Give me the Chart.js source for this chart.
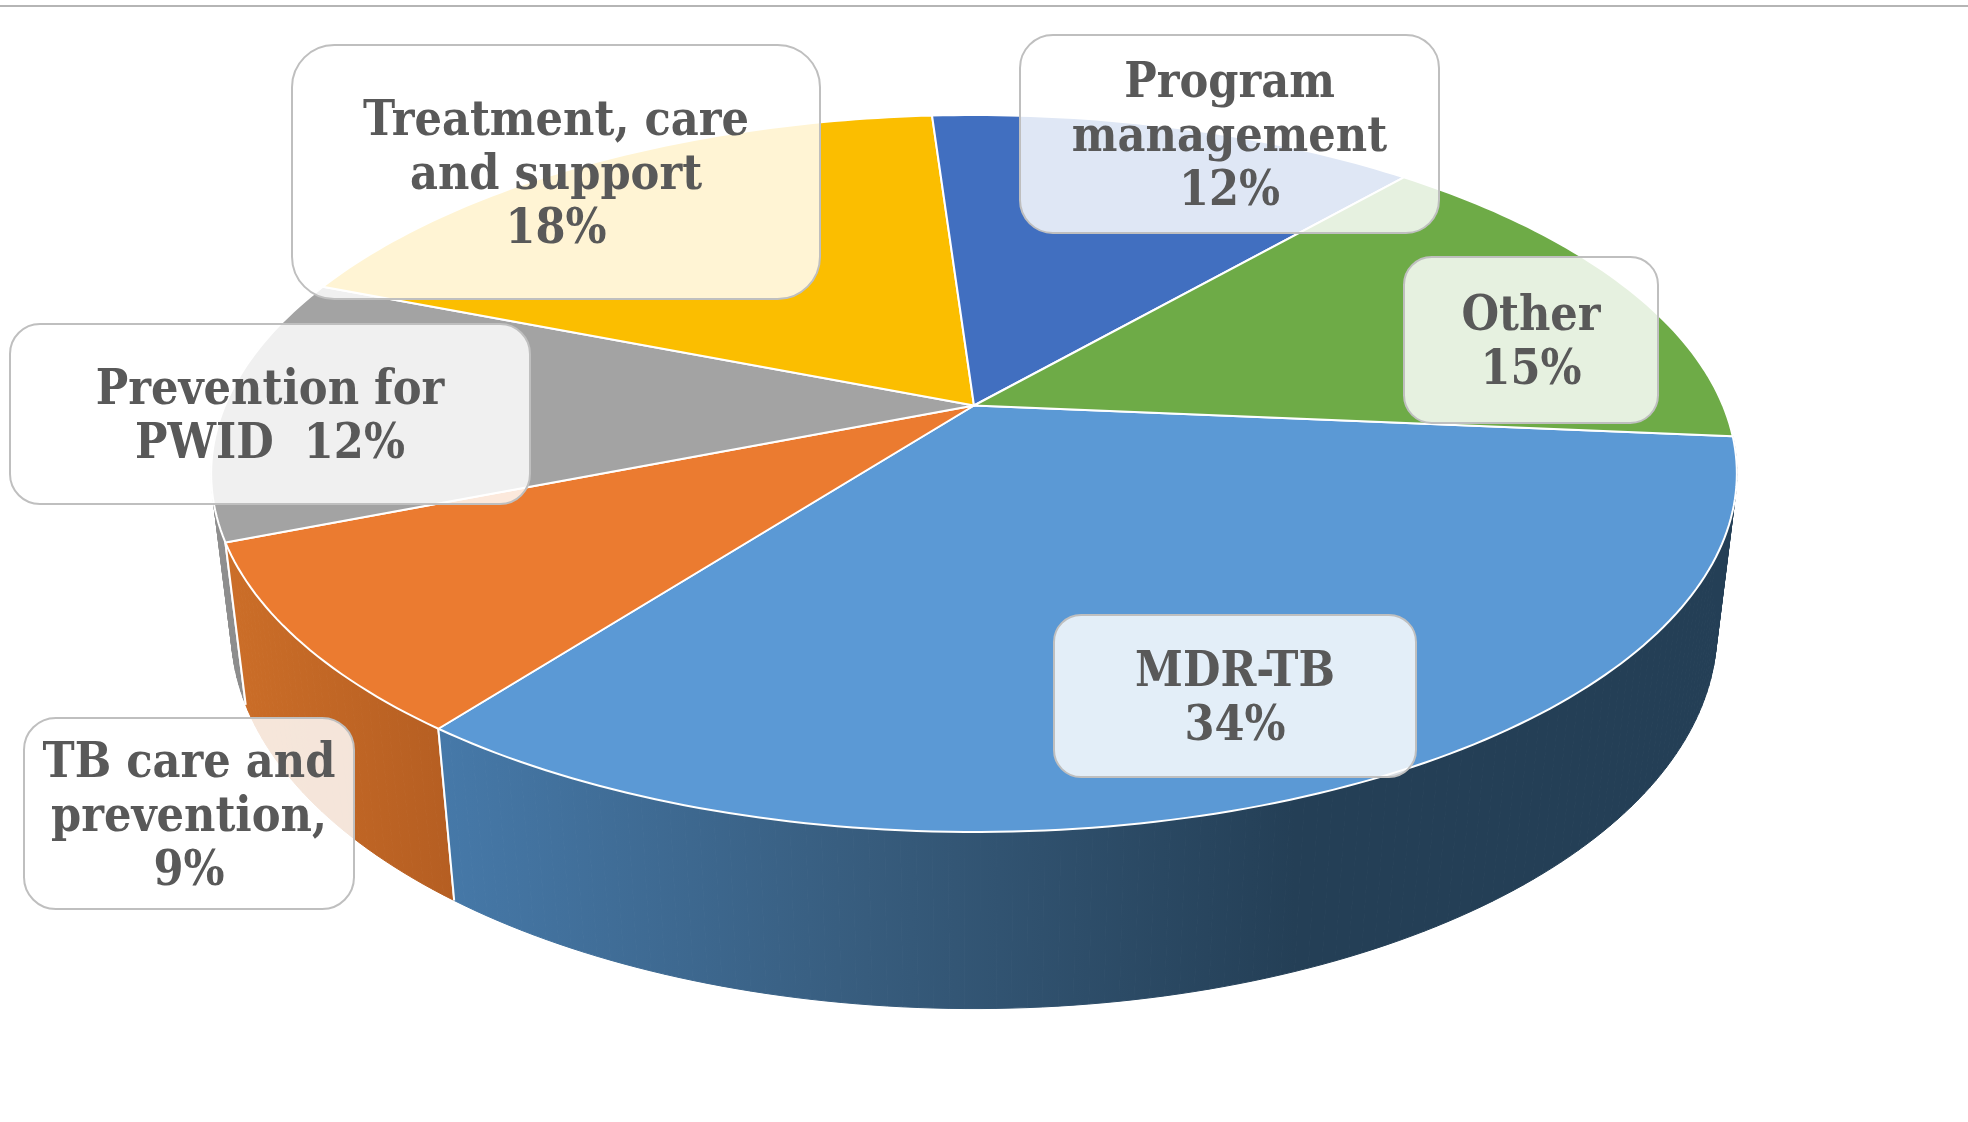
<!DOCTYPE html>
<html>
<head>
<meta charset="utf-8">
<style>
  html, body { margin: 0; padding: 0; background: #fff; }
  canvas { display: block; }
  #rule { position: absolute; left: 0; top: 5px; width: 1968px; height: 2px; background: #b5b5b5; }
</style>
</head>
<body>
<div id="rule"></div>
<canvas id="js-chart" width="1968" height="1122"></canvas>
<script src="https://cdn.jsdelivr.net/npm/chart.js@4"></script>
<script>
// データ
const categories = ["MDR-TB", "TB care and prevention", "Prevention for PWID", "Treatment, care and support", "Program management", "Other"];
const shareValues = [34.0, 8.6, 12.0, 17.95, 12.45, 15.0];
const labelLines = [
  ["MDR-TB", "34%"],
  ["TB care and", "prevention,", "9%"],
  ["Prevention for", "PWID  12%"],
  ["Treatment, care", "and support", "18%"],
  ["Program", "management", "12%"],
  ["Other", "15%"],
];

// 色
const topColors = ["#5B99D5", "#EB7B30", "#A3A3A3", "#FBBE00", "#416FC0", "#6EAB47"];
const wallStops = [
  [[0, "#4679a9"], [0.33, "#375c7d"], [0.66, "#243f56"], [1, "#243f56"]],
  [[0, "#cc6e28"], [1, "#b55e22"]],
  [[0, "#909090"], [1, "#808080"]],
];

// ラベル枠の位置 [x, y, w, h]
const labelBoxes = [
  [1054, 615, 362, 162],
  [24, 718, 330, 191],
  [10, 324, 520, 180],
  [292, 45, 528, 254],
  [1020, 35, 419, 198],
  [1404, 257, 254, 166],
];

// 透視投影のパラメータ
const view = { cx: 974, cy: 405.5, a: 749, b: 345.6, k: 0.1897, depth: 158.7, shrink: 0.0259 };

const projectTop = (ang) => {
  const u = Math.cos(ang), v = Math.sin(ang), w = 1 - view.k * v;
  return [view.cx + view.a * u / w, view.cy + view.b * v / w];
};
const projectBottom = (ang) => {
  const u = Math.cos(ang), v = Math.sin(ang), w = 1 - view.k * v + view.shrink;
  return [view.cx + view.a * u / w, view.cy + (view.b * v + view.depth) / w];
};
const sampleAngles = (start, end) => {
  const steps = Math.max(2, Math.ceil((end - start) / (Math.PI / 180)));
  const out = [];
  for (let i = 0; i <= steps; i++) out.push(start + (end - start) * i / steps);
  return out;
};

const drawWall = (ctx, arc, i) => {
  const stops = wallStops[i];
  if (!stops) return;
  const angles = sampleAngles(arc.startAngle, arc.endAngle);
  const top = angles.map(projectTop);
  const bottom = angles.map(projectBottom);
  const xs = top.concat(bottom).map((p) => p[0]);
  const grad = ctx.createLinearGradient(Math.min(...xs), 0, Math.max(...xs), 0);
  stops.forEach((s) => grad.addColorStop(s[0], s[1]));
  ctx.fillStyle = grad;
  ctx.strokeStyle = grad;
  ctx.lineWidth = 1;
  // 1度ごとの帯で塗る(端の接線がまっすぐになる)
  for (let j = 0; j < angles.length - 1; j++) {
    ctx.beginPath();
    ctx.moveTo(top[j][0], top[j][1]);
    ctx.lineTo(top[j + 1][0], top[j + 1][1]);
    ctx.lineTo(bottom[j + 1][0], bottom[j + 1][1]);
    ctx.lineTo(bottom[j][0], bottom[j][1]);
    ctx.closePath();
    ctx.fill();
    ctx.stroke();
  }
  // 側面の区切り線
  ctx.strokeStyle = "#fff";
  ctx.lineWidth = 2;
  [arc.startAngle, arc.endAngle].forEach((ang) => {
    if (i === 0 && ang === arc.startAngle) return;
    const p = projectTop(ang), q = projectBottom(ang);
    ctx.beginPath();
    ctx.moveTo(p[0], p[1]);
    ctx.lineTo(q[0], q[1]);
    ctx.stroke();
  });
};

const drawTop = (ctx, arc, i) => {
  ctx.beginPath();
  ctx.moveTo(view.cx, view.cy);
  sampleAngles(arc.startAngle, arc.endAngle).map(projectTop).forEach((p) => ctx.lineTo(p[0], p[1]));
  ctx.closePath();
  ctx.fillStyle = topColors[i];
  ctx.fill();
  ctx.strokeStyle = "#fff";
  ctx.lineWidth = 2;
  ctx.lineJoin = "round";
  ctx.stroke();
};

const drawLabel = (ctx, box, lines) => {
  const [x, y, w, h] = box;
  ctx.beginPath();
  ctx.roundRect(x, y, w, h, Math.min(w, h) / 6);
  ctx.fillStyle = "rgba(255,255,255,0.83)";
  ctx.fill();
  ctx.strokeStyle = "#bfbfbf";
  ctx.lineWidth = 2;
  ctx.stroke();
  ctx.fillStyle = "#595959";
  ctx.font = 'bold 48px "DejaVu Serif Condensed", "DejaVu Serif", serif';
  ctx.textAlign = "center";
  ctx.textBaseline = "alphabetic";
  const midBase = y + h / 2 + 17;
  lines.forEach((line, j) => {
    ctx.fillText(line, x + w / 2, midBase + (j - (lines.length - 1) / 2) * 54);
  });
};

// 楕円の円グラフを描くプラグイン(角度はChart.jsのarcから取る)
const tiltedPie = {
  id: "tiltedPie",
  beforeDatasetsDraw(chart) {
    const ctx = chart.ctx;
    const arcs = chart.getDatasetMeta(0).data;
    ctx.save();
    // 奥の側面から順に描く
    [2, 1, 0].forEach((i) => drawWall(ctx, arcs[i], i));
    arcs.forEach((arc, i) => drawTop(ctx, arc, i));
    labelBoxes.forEach((box, i) => drawLabel(ctx, box, labelLines[i]));
    ctx.restore();
    return false;
  },
};

new Chart(document.getElementById("js-chart"), {
  type: "pie",
  data: {
    labels: categories,
    datasets: [{ data: shareValues, backgroundColor: topColors, borderColor: "#fff", borderWidth: 2 }],
  },
  options: {
    responsive: false,
    animation: false,
    rotation: 95,
    plugins: { legend: { display: false }, tooltip: { enabled: false } },
  },
  plugins: [tiltedPie],
});
</script>
</body>
</html>
